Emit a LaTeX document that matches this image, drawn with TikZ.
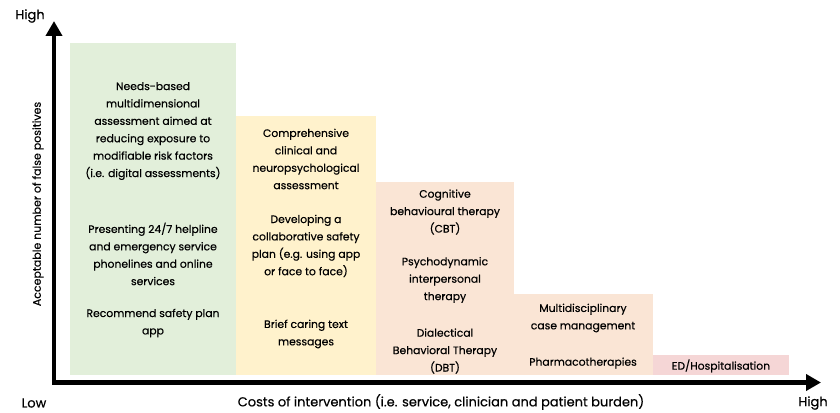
\documentclass[tikz,border=0pt]{standalone}
\usepackage{fontspec}
\setmainfont{Poppins}
\usetikzlibrary{arrows.meta}

\definecolor{bandgreen}{RGB}{226,239,218}
\definecolor{bandyellow}{RGB}{255,242,204}
\definecolor{bandpeach}{RGB}{250,229,213}
\definecolor{bandpink}{RGB}{245,214,214}

\tikzset{
  axis/.style={line width=4.5pt,{Triangle[length=15pt,width=16pt]}-{Triangle[length=15pt,width=16pt]}},
  txt/.style={align=center,inner sep=0pt,font=\fontsize{10.8}{17.4}\selectfont\addfontfeature{FakeBold=0.4}},
  lbl/.style={inner sep=0pt,font=\fontsize{13}{15}\selectfont\addfontfeature{FakeBold=0.4}},
}

\begin{document}
\begin{tikzpicture}[x=1pt,y=-1pt]
  \useasboundingbox (0,0) rectangle (840,412);
  % bands
  \fill[bandgreen] (70,43) rectangle (236,375);
  \fill[bandyellow] (236,116) rectangle (376,375);
  \fill[bandpeach] (376,182) rectangle (514,375);
  \fill[bandpeach] (514,294) rectangle (653,375);
  \fill[bandpink] (653,355) rectangle (789,375);
  % axes
  \coordinate (origin) at (54,382.5);
  \coordinate (ytop) at (54,21);
  \coordinate (xend) at (821,382.5);
  \draw[axis] (ytop) -- (origin) -- (xend);
  \node[lbl] (yhigh) at (30,16) {High};
  \node[lbl] (xlow) at (34,403) {Low};
  \node[lbl] (xhigh) at (813,403) {High};
  \node[lbl] (xtitle) at (441,402) {Costs of intervention (i.e. service, clinician and patient burden)};
  \node[lbl,rotate=90,font=\fontsize{11}{12}\selectfont\addfontfeature{FakeBold=0.4}] (ytitle) at (38,204) {Acceptable number of false positives};
  % green
  \node[txt] (needs) at (153,131) {Needs-based\\multidimensional\\assessment aimed at\\reducing exposure to\\modifiable risk factors\\(i.e. digital assessments)};
  \node[txt] (helpline) at (153,254) {Presenting 24/7 helpline\\and emergency service\\phonelines and online\\services};
  \node[txt] (planapp) at (153,323) {Recommend safety plan\\app};
  % yellow
  \node[txt] (compr) at (306,159) {Comprehensive\\clinical and\\neuropsychological\\assessment};
  \node[txt] (safety) at (306,246) {Developing a\\collaborative safety\\plan (e.g. using app\\or face to face)};
  \node[txt] (caring) at (306,334) {Brief caring text\\messages};
  % peach
  \node[txt] (cbt) at (445,212) {Cognitive\\behavioural therapy\\(CBT)};
  \node[txt] (psycho) at (445,280) {Psychodynamic\\interpersonal\\therapy};
  \node[txt] (dbt) at (445,351) {Dialectical\\Behavioral Therapy\\(DBT)};
  \node[txt] (multi) at (583,318) {Multidisciplinary\\case management};
  \node[txt] (pharma) at (583,363) {Pharmacotherapies};
  % pink
  \node[txt] (hosp) at (721,366) {ED/Hospitalisation};
\end{tikzpicture}
\end{document}
